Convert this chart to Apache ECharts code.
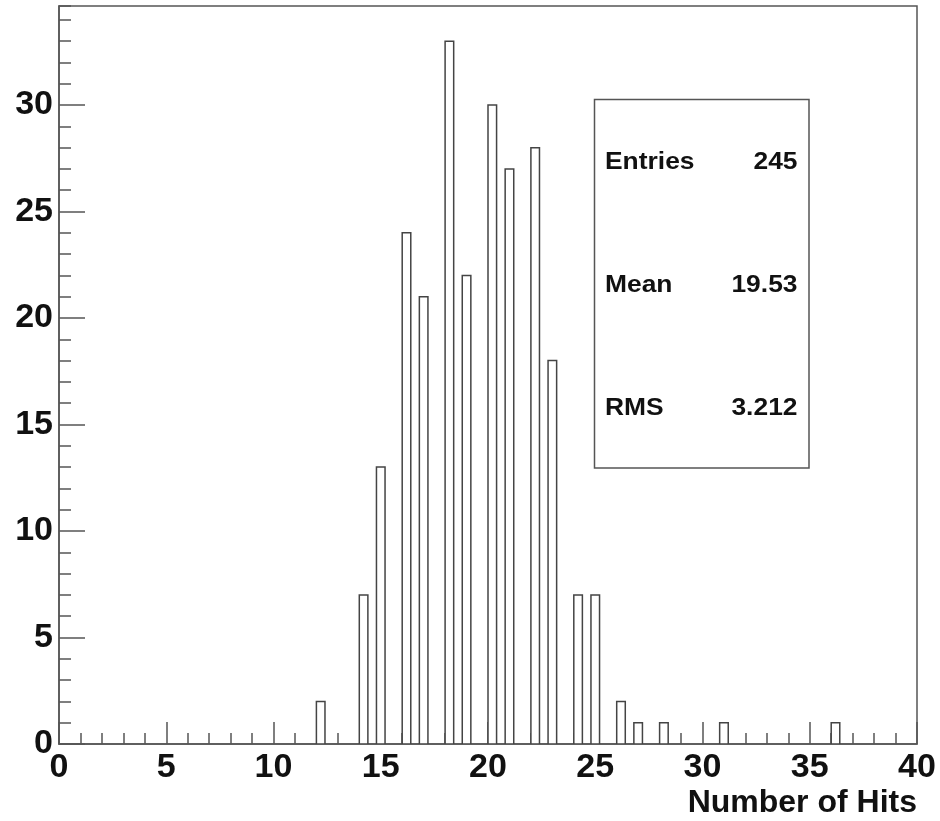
<!DOCTYPE html>
<html>
<head>
<meta charset="utf-8">
<script src="https://cdn.jsdelivr.net/npm/echarts@6/dist/echarts.min.js"></script>
<style>
  html, body { margin: 0; padding: 0; background: #fff; }
  #chart { width: 940px; height: 821px; }
</style>
</head>
<body>
<div id="chart"></div>
<script>
// Histogram data: number of hits per event (100 bins over 0..40)
const binWidth = 0.4;
const hitValues = [12, 14, 15, 16, 17, 18, 19, 20, 21, 22, 23, 24, 25, 26, 27, 28, 31, 36];
const hitCounts = [2, 7, 13, 24, 21, 33, 22, 30, 27, 28, 18, 7, 7, 2, 1, 1, 1, 1];
const xTickLabels = [0, 5, 10, 15, 20, 25, 30, 35, 40];
const yTickLabels = [0, 5, 10, 15, 20, 25, 30];
const statNames = ['Entries', 'Mean', 'RMS'];
const statValues = ['245', '19.53', '3.212'];
const xTitle = 'Number of Hits';
const yMax = 34.65;

const FONT = '"Liberation Sans", Arial, Helvetica, sans-serif';
const LINE = '#555';

const binData = hitValues.map((v, i) => {
  const b = Math.floor(v / binWidth + 1e-9);
  return [b * binWidth, (b + 1) * binWidth, hitCounts[i]];
});

const chart = echarts.init(document.getElementById('chart'), null, { renderer: 'canvas' });

const gridBox = { left: 59, right: 23, top: 6, bottom: 77 };

const statRowTop = 99.5, statRowH = 123;
const graphics = [{
  type: 'rect',
  shape: { x: 594.5, y: 99.5, width: 214.5, height: 368.5 },
  style: { fill: '#fff', stroke: LINE, lineWidth: 1.5 },
  z: 10
}];
statNames.forEach((n, i) => {
  const cy = statRowTop + statRowH * (i + 0.5) + 1;
  graphics.push({
    type: 'text', x: 605, y: cy, scaleX: 1.1, z: 11,
    style: { text: n, fontSize: 24, fontWeight: 'bold', fontFamily: FONT, fill: '#111', align: 'left', verticalAlign: 'middle' }
  });
  graphics.push({
    type: 'text', x: 797.5, y: cy, scaleX: 1.1, z: 11,
    style: { text: statValues[i], fontSize: 24, fontWeight: 'bold', fontFamily: FONT, fill: '#111', align: 'right', verticalAlign: 'middle' }
  });
});

const option = {
  animation: false,
  backgroundColor: '#fff',
  grid: Object.assign({ show: true, borderColor: LINE, borderWidth: 1.5, backgroundColor: 'transparent', containLabel: false }, gridBox),
  xAxis: {
    type: 'value',
    min: 0, max: 40, interval: 5,
    position: 'bottom',
    axisLine: { show: true, onZero: false, lineStyle: { color: LINE, width: 1.5 } },
    axisTick: { show: true, inside: true, length: 22, lineStyle: { color: LINE, width: 1.5 } },
    minorTick: { show: true, splitNumber: 5, length: 11, lineStyle: { color: LINE, width: 1.5 } },
    splitLine: { show: false },
    axisLabel: {
      fontSize: 34, fontWeight: 'bold', fontFamily: FONT, color: '#111', margin: 7,
      formatter: v => (xTickLabels.indexOf(v) >= 0 ? String(v) : '')
    },
    name: xTitle,
    nameLocation: 'end',
    nameGap: 0,
    nameTextStyle: {
      fontSize: 32, fontWeight: 'bold', fontFamily: FONT, color: '#111',
      align: 'right', verticalAlign: 'top', padding: [43, 0, 0, 0]
    }
  },
  yAxis: [{
    type: 'value',
    min: 0, max: yMax, interval: 5,
    position: 'left',
    axisLine: { show: true, onZero: false, lineStyle: { color: LINE, width: 1.5 } },
    axisTick: { show: true, inside: true, length: 26, lineStyle: { color: LINE, width: 1.5 } },
    splitLine: { show: false },
    axisLabel: {
      fontSize: 34, fontWeight: 'bold', fontFamily: FONT, color: '#111', margin: 6,
      showMaxLabel: false,
      formatter: v => (yTickLabels.indexOf(v) >= 0 ? String(v) : '')
    }
  }, {
    type: 'value',
    min: 0, max: yMax, interval: 1,
    position: 'left',
    axisLine: { show: false },
    axisTick: { show: true, inside: true, length: 12, lineStyle: { color: LINE, width: 1.5 } },
    splitLine: { show: false },
    axisLabel: { show: false }
  }],
  series: [{
    type: 'custom',
    xAxisIndex: 0,
    yAxisIndex: 0,
    data: binData,
    encode: { x: [0, 1], y: 2 },
    clip: true,
    renderItem: function (params, api) {
      const x0 = api.value(0), x1 = api.value(1), c = api.value(2);
      const p0 = api.coord([x0, 0]);
      const p1 = api.coord([x1, c]);
      return {
        type: 'rect',
        shape: { x: p0[0], y: p1[1], width: p1[0] - p0[0], height: p0[1] - p1[1] },
        style: { fill: '#fff', stroke: '#444', lineWidth: 1.5 }
      };
    }
  }],
  graphic: graphics
};

chart.setOption(option);
</script>
</body>
</html>
